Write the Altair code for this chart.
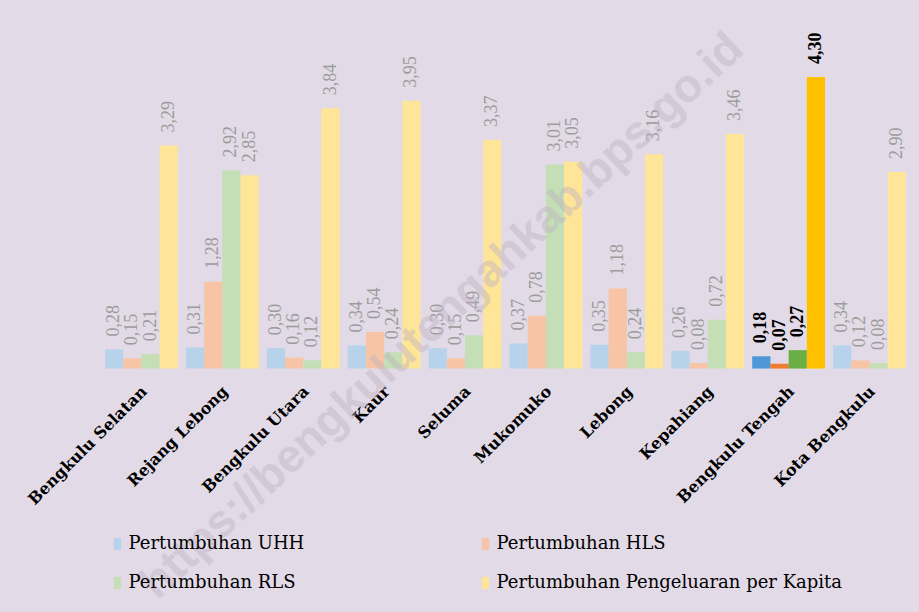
import altair as alt
import pandas as pd

# Pertumbuhan komponen IPM per kabupaten/kota (persen)
kabupaten = [
    "Bengkulu Selatan", "Rejang Lebong", "Bengkulu Utara", "Kaur", "Seluma",
    "Mukomuko", "Lebong", "Kepahiang", "Bengkulu Tengah", "Kota Bengkulu",
]
seri = [
    "Pertumbuhan UHH",
    "Pertumbuhan HLS",
    "Pertumbuhan RLS",
    "Pertumbuhan Pengeluaran per Kapita",
]
uhh = [0.28, 0.31, 0.30, 0.34, 0.30, 0.37, 0.35, 0.26, 0.18, 0.34]
hls = [0.15, 1.28, 0.16, 0.54, 0.15, 0.78, 1.18, 0.08, 0.07, 0.12]
rls = [0.21, 2.92, 0.12, 0.24, 0.49, 3.01, 0.24, 0.72, 0.27, 0.08]
pengeluaran = [3.29, 2.85, 3.84, 3.95, 3.37, 3.05, 3.16, 3.46, 4.30, 2.90]

sorotan = "Bengkulu Tengah"
warna_lembut = ["#B6D3EB", "#F7C4A5", "#C4DFB5", "#FFE597"]
warna_tegas = ["#5097D8", "#ED7D31", "#6CAE46", "#FFC000"]
latar = "#E2DAE6"
tanda_air = "https://bengkulutengahkab.bps.go.id"

baris = []
for s, nilai in zip(seri, [uhh, hls, rls, pengeluaran]):
    for k, v in zip(kabupaten, nilai):
        baris.append({"kabupaten": k, "seri": s, "nilai": v})
df = pd.DataFrame(baris)

base = alt.Chart(df).transform_calculate(
    label="replace(format(datum.nilai, '.2f'), '.', ',')"
)

x = alt.X(
    "kabupaten:N",
    sort=kabupaten,
    title=None,
    scale=alt.Scale(paddingInner=0.1, paddingOuter=0.05),
    axis=alt.Axis(
        labelAngle=-45,
        labelAlign="right",
        labelBaseline="middle",
        labelFont="DejaVu Serif",
        labelFontWeight="bold",
        labelFontSize=16,
        labelColor="black",
        labelPadding=20,
        labelOffset=3,
        labelLimit=300,
        labelOverlap=False,
        ticks=False,
        domain=False,
        grid=False,
    ),
)
xo = alt.XOffset("seri:N", sort=seri, scale=alt.Scale(paddingInner=0, paddingOuter=0))
y = alt.Y("nilai:Q", scale=alt.Scale(domain=[0, 4.5]), axis=None)

batang = base.mark_bar().encode(
    x=x,
    xOffset=xo,
    y=y,
    color=alt.Color(
        "seri:N",
        sort=seri,
        scale=alt.Scale(domain=seri, range=warna_lembut),
        legend=alt.Legend(
            title=None,
            orient="none",
            direction="horizontal",
            legendX=7.5,
            legendY=471.5,
            columns=2,
            columnPadding=172,
            rowPadding=21,
            padding=0,
            symbolType="M-0.6,-1H0.6V1H-0.6Z",
            symbolSize=144,
            symbolStrokeWidth=0,
            labelFont="DejaVu Serif",
            labelFontSize=18,
            labelColor="black",
            labelOffset=2,
            labelLimit=400,
        ),
    ),
)

batang_sorot = base.transform_filter(alt.datum.kabupaten == sorotan).mark_bar().encode(
    x=x,
    xOffset=xo,
    y=y,
    color=alt.Color(
        "seri:N",
        sort=seri,
        scale=alt.Scale(domain=seri, range=warna_tegas),
        legend=None,
    ),
)

label = base.transform_filter(alt.datum.kabupaten != sorotan).mark_text(
    angle=270, align="left", baseline="middle", dx=13,
    font="Liberation Serif", fontSize=18, color="#9C9C9C",
).encode(x=x, xOffset=xo, y=y, text="label:N")

label_sorot = base.transform_filter(alt.datum.kabupaten == sorotan).mark_text(
    angle=270, align="left", baseline="middle", dx=13,
    font="Liberation Serif", fontSize=18, fontWeight="bold", color="black",
).encode(x=x, xOffset=xo, y=y, text="label:N")

# tanda air diagonal di atas grafik
air = alt.Chart(pd.DataFrame({"t": [tanda_air]})).mark_text(
    angle=317, align="center", baseline="middle",
    font="Liberation Sans", fontWeight="bold", fontSize=46,
    color="#BFB3C3", opacity=0.45,
).encode(x=alt.value(341), y=alt.value(252.5), text="t:N")

chart = (
    alt.layer(batang, batang_sorot, label, label_sorot, air)
    .resolve_scale(color="independent")
    .properties(
        width=809,
        height=305,
        background=latar,
        padding={"left": 101, "top": 63.5, "right": 9, "bottom": 243.5},
        autosize=alt.AutoSizeParams(type="none"),
    )
    .configure_view(stroke=None)
)

chart.save("out.html", embed_options={"renderer": "svg", "actions": False})
